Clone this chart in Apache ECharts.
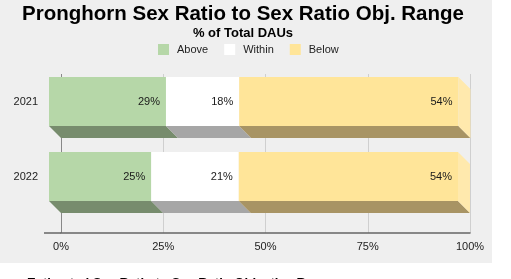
<!DOCTYPE html>
<html>
<head>
<meta charset="utf-8">
<style>
  html, body { margin: 0; padding: 0; background: #ffffff; }
  #chart { width: 511px; height: 279px; }
</style>
<script src="https://cdn.jsdelivr.net/npm/echarts@6/dist/echarts.min.js"></script>
</head>
<body>
<div id="chart"></div>
<script>
// 数据
var categories = ['2021', '2022'];
var aboveValues = [28.6, 25.0];
var withinValues = [17.9, 21.4];
var belowValues = [53.6, 53.6];
var tickLabels = ['0%', '25%', '50%', '75%', '100%'];

(function () {
    var myChart = echarts.init(document.getElementById('chart'));
    var depth = 12;   // 3D厚度
    var fontFam = '"Liberation Sans", Arial, sans-serif';

    // 把各段堆叠成 [起点, 终点, 类别, 值]
    function stackData(values, before) {
        return values.map(function (v, i) {
            var start = 0;
            before.forEach(function (arr) { start += arr[i]; });
            return [start, start + v, i, v];
        });
    }

    function makeRender(front, bottom, side) {
        return function (params, api) {
            var cat = api.value(2);
            var s = api.coord([api.value(0), cat]);
            var e = api.coord([api.value(1), cat]);
            var h = api.size([0, 1])[1] * 0.653;
            var top = s[1] - h / 2;
            var bot = s[1] + h / 2;
            var children = [
                {
                    type: 'polygon',
                    shape: { points: [[s[0], bot], [e[0], bot], [e[0] + depth, bot + depth], [s[0] + depth, bot + depth]] },
                    style: { fill: bottom }
                },
                {
                    type: 'rect',
                    shape: { x: s[0], y: top, width: e[0] - s[0], height: h },
                    style: { fill: front }
                }
            ];
            if (side) {
                children.push({
                    type: 'polygon',
                    shape: { points: [[e[0], top], [e[0] + depth, top + depth], [e[0] + depth, bot + depth], [e[0], bot]] },
                    style: { fill: side }
                });
            }
            children.push({
                type: 'text',
                style: {
                    x: e[0] - 6, y: s[1],
                    text: Math.round(api.value(3)) + '%',
                    fill: '#1a1a1a', font: '11px ' + fontFam,
                    align: 'right', verticalAlign: 'middle'
                }
            });
            return { type: 'group', children: children };
        };
    }

    var option = {
        animation: false,
        backgroundColor: '#ffffff',
        title: {
            text: 'Pronghorn Sex Ratio to Sex Ratio Obj. Range',
            subtext: '% of Total DAUs',
            left: 238, textAlign: 'center', top: 0,
            padding: [4, 5, 5, 5],
            itemGap: 2,
            textStyle: { fontFamily: fontFam, fontSize: 20.5, fontWeight: 'bold', color: '#000' },
            subtextStyle: { fontFamily: fontFam, fontSize: 13, fontWeight: 'bold', color: '#000' }
        },
        legend: {
            data: ['Above', 'Within', 'Below'],
            left: 158, top: 44, padding: 0,
            icon: 'rect', itemWidth: 11, itemHeight: 11, itemGap: 16,
            textStyle: { fontFamily: fontFam, fontSize: 11, color: '#222', padding: [0, 0, 0, 3] }
        },
        graphic: [
            { type: 'rect', z: -10, shape: { x: 0, y: 0, width: 492, height: 263 }, style: { fill: '#efefef' } },
            { type: 'line', z: 5, shape: { x1: 44, y1: 233, x2: 61, y2: 233 }, style: { stroke: '#666', lineWidth: 1.5 } },
            {
                type: 'text',
                style: {
                    x: 27, y: 277, verticalAlign: 'top',
                    text: 'Estimated Sex Ratio to Sex Ratio Objective Range',
                    font: 'bold 13px ' + fontFam, fill: '#000'
                }
            }
        ],
        grid: [
            { left: 49, top: 64, width: 409, height: 150 },
            { left: 61, top: 74, width: 409, height: 159 }
        ],
        xAxis: [
            { gridIndex: 0, type: 'value', min: 0, max: 100, show: false },
            {
                gridIndex: 1, type: 'value', min: 0, max: 100, interval: 25,
                axisLine: { show: true, lineStyle: { color: '#666', width: 1.5 } },
                axisTick: { show: false },
                axisLabel: {
                    margin: 8, color: '#222', fontSize: 11, fontFamily: fontFam,
                    formatter: function (v) { return tickLabels[v / 25]; }
                },
                splitLine: { show: true, lineStyle: { color: ['#888', '#cfcfcf', '#cfcfcf', '#cfcfcf', '#cfcfcf'] } }
            }
        ],
        yAxis: [
            {
                gridIndex: 0, type: 'category', inverse: true, data: categories,
                axisLine: { show: false }, axisTick: { show: false },
                axisLabel: { margin: 11, color: '#222', fontSize: 11, fontFamily: fontFam }
            },
            { gridIndex: 1, type: 'value', min: 0, max: 1, show: false }
        ],
        series: [
            {
                name: 'Above', type: 'custom', color: '#b6d7a8',
                renderItem: makeRender('#b6d7a8', '#778c6d'),
                encode: { x: [0, 1], y: 2 },
                data: stackData(aboveValues, [])
            },
            {
                name: 'Within', type: 'custom', color: '#ffffff',
                renderItem: makeRender('#ffffff', '#a6a6a6'),
                encode: { x: [0, 1], y: 2 },
                data: stackData(withinValues, [aboveValues])
            },
            {
                name: 'Below', type: 'custom', color: '#ffe599',
                renderItem: makeRender('#ffe599', '#a89464', '#ffe9ad'),
                encode: { x: [0, 1], y: 2 },
                data: stackData(belowValues, [aboveValues, withinValues])
            }
        ]
    };
    myChart.setOption(option);
    window.addEventListener('resize', function () {
        myChart.resize();
    });
})();
</script>
</body>
</html>
